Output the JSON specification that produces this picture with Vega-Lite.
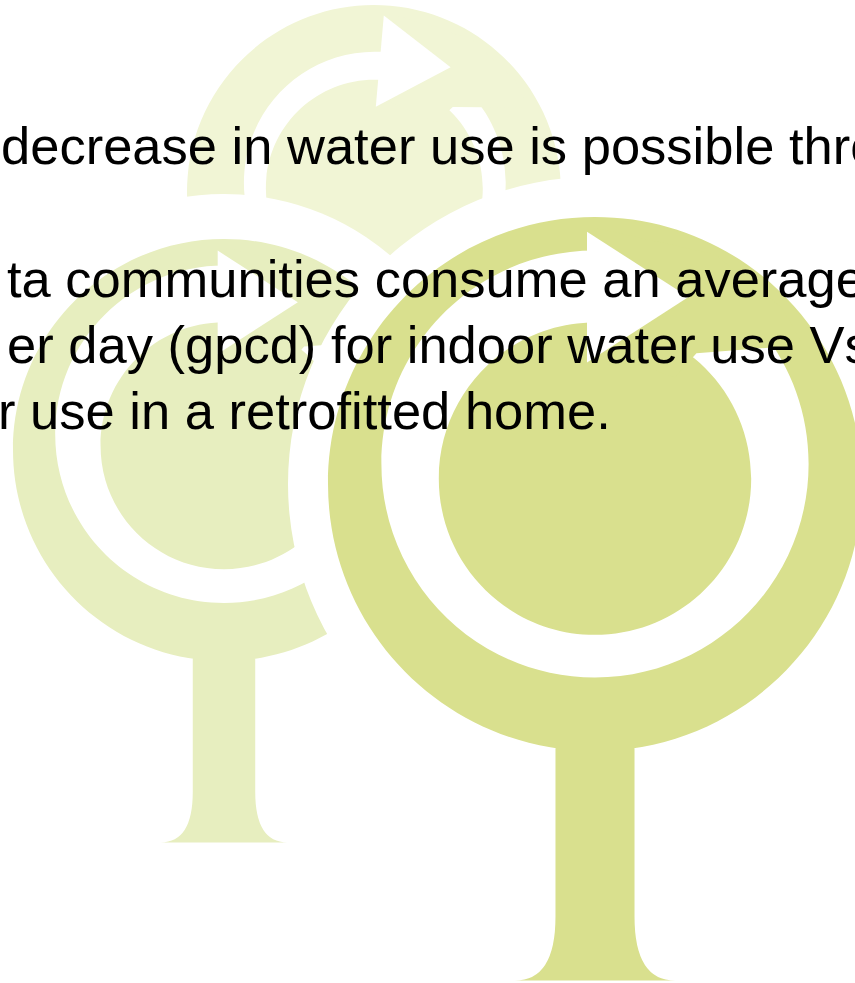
{
  "$schema": "https://vega.github.io/schema/vega-lite/v6.json",
  "width": 855,
  "height": 983,
  "autosize": {"type": "none"},
  "padding": 0,
  "background": "#ffffff",
  "config": {"view": {"stroke": null}},
  "layer": [
    {
      "data": {"values": [
        {"tree": "back", "part": "tree", "tone": "back", "cx": 374, "cy": 192, "r": 187, "tilt": 5},
        {"tree": "back", "part": "gapB", "tone": "white", "cx": 374, "cy": 192, "r": 187, "tilt": 5},
        {"tree": "back", "part": "bridge", "tone": "back", "cx": 374, "cy": 192, "r": 187, "tilt": 5},
        {"tree": "back", "part": "arrow", "tone": "white", "cx": 374, "cy": 192, "r": 187, "tilt": 5},
        {"tree": "left", "part": "halo", "tone": "white", "cx": 224, "cy": 450, "r": 256, "tilt": 0},
        {"tree": "left", "part": "tree", "tone": "left", "cx": 224, "cy": 450, "r": 211, "tilt": 0},
        {"tree": "left", "part": "gap", "tone": "white", "cx": 224, "cy": 450, "r": 211, "tilt": 0},
        {"tree": "left", "part": "bridge", "tone": "left", "cx": 224, "cy": 450, "r": 211, "tilt": 0},
        {"tree": "left", "part": "arrow", "tone": "white", "cx": 224, "cy": 450, "r": 211, "tilt": 0},
        {"tree": "right", "part": "halo", "tone": "white", "cx": 595, "cy": 484, "r": 307, "tilt": 0},
        {"tree": "right", "part": "tree", "tone": "right", "cx": 595, "cy": 484, "r": 267, "tilt": 0},
        {"tree": "right", "part": "gap", "tone": "white", "cx": 595, "cy": 484, "r": 267, "tilt": 0},
        {"tree": "right", "part": "bridge", "tone": "right", "cx": 595, "cy": 484, "r": 267, "tilt": 0},
        {"tree": "right", "part": "arrow", "tone": "white", "cx": 595, "cy": 484, "r": 267, "tilt": 0}
      ]},
      "mark": {"type": "point", "filled": true, "opacity": 1, "strokeWidth": 0},
      "encoding": {
        "x": {"field": "cx", "type": "quantitative", "scale": {"domain": [0, 855], "nice": false, "zero": false}, "axis": null},
        "y": {"field": "cy", "type": "quantitative", "scale": {"domain": [0, 983], "nice": false, "zero": false, "reverse": true}, "axis": null},
        "size": {"field": "r", "type": "quantitative", "scale": {"type": "pow", "exponent": 2, "domain": [0, 500], "range": [0, 1000000]}, "legend": null},
        "shape": {"field": "part", "type": "nominal", "legend": null, "scale": {
          "domain": ["halo", "tree", "gap", "gapB", "bridge", "arrow"],
          "range": [
            "circle",
            "M 1 0 C 1 0.5523 0.5523 1 0 1 C -0.5523 1 -1 0.5523 -1 0 C -1 -0.5523 -0.5523 -1 0 -1 C 0.5523 -1 1 -0.5523 1 0 Z M -0.148 0.9 L 0.148 0.9 L 0.148 1.62 Q 0.148 1.86 0.3 1.86 L -0.3 1.86 Q -0.148 1.86 -0.148 1.62 Z",
            "M 0.8 -0.075 C 0.8 0.3668 0.4418 0.725 0 0.725 C -0.4418 0.725 -0.8 0.3668 -0.8 -0.075 C -0.8 -0.5168 -0.4418 -0.875 0 -0.875 C 0.4418 -0.875 0.8 -0.5168 0.8 -0.075 Z M 0.585 -0.02 C 0.585 -0.3431 0.3231 -0.605 0 -0.605 C -0.3231 -0.605 -0.585 -0.3431 -0.585 -0.02 C -0.585 0.3031 -0.3231 0.565 0 0.565 C 0.3231 0.565 0.585 0.3031 0.585 -0.02 Z",
            "M 0.7 -0.05 C 0.7 0.3366 0.3866 0.65 0 0.65 C -0.3866 0.65 -0.7 0.3366 -0.7 -0.05 C -0.7 -0.4366 -0.3866 -0.75 0 -0.75 C 0.3866 -0.75 0.7 -0.4366 0.7 -0.05 Z M 0.58 -0.02 C 0.58 -0.3403 0.3203 -0.6 0 -0.6 C -0.3203 -0.6 -0.58 -0.3403 -0.58 -0.02 C -0.58 0.3003 -0.3203 0.56 0 0.56 C 0.3203 0.56 0.58 0.3003 0.58 -0.02 Z",
            "M 0 -0.96 L 0.45 -0.86 L 0.7 -0.66 L 0.78 -0.52 L 0.38 -0.49 L 0.3 -0.4 L 0 -0.5 Z",
            "M -0.03 -0.945 L 0.35 -0.7 L -0.03 -0.455 Z"
          ]}},
        "color": {"field": "tone", "type": "nominal", "legend": null, "scale": {
          "domain": ["white", "back", "left", "right"],
          "range": ["#ffffff", "#f1f5d5", "#e7eebf", "#d9e08e"]}},
        "angle": {"field": "tilt", "type": "quantitative", "scale": null}
      }
    },
    {
      "data": {"values": [
        {"line": "decrease in water use is possible thro", "tx": 1, "ty": 164},
        {"line": "ta communities consume an average", "tx": 7, "ty": 297},
        {"line": "er day (gpcd) for indoor water use Vs", "tx": 7, "ty": 363},
        {"line": "r use in a retrofitted home.", "tx": -2, "ty": 429}
      ]},
      "mark": {"type": "text", "align": "left", "baseline": "alphabetic", "font": "Liberation Sans", "fontSize": 52.5, "color": "#000000"},
      "encoding": {
        "x": {"field": "tx", "type": "quantitative", "scale": {"domain": [0, 855], "nice": false, "zero": false}, "axis": null},
        "y": {"field": "ty", "type": "quantitative", "scale": {"domain": [0, 983], "nice": false, "zero": false, "reverse": true}, "axis": null},
        "text": {"field": "line", "type": "nominal"}
      }
    }
  ]
}
